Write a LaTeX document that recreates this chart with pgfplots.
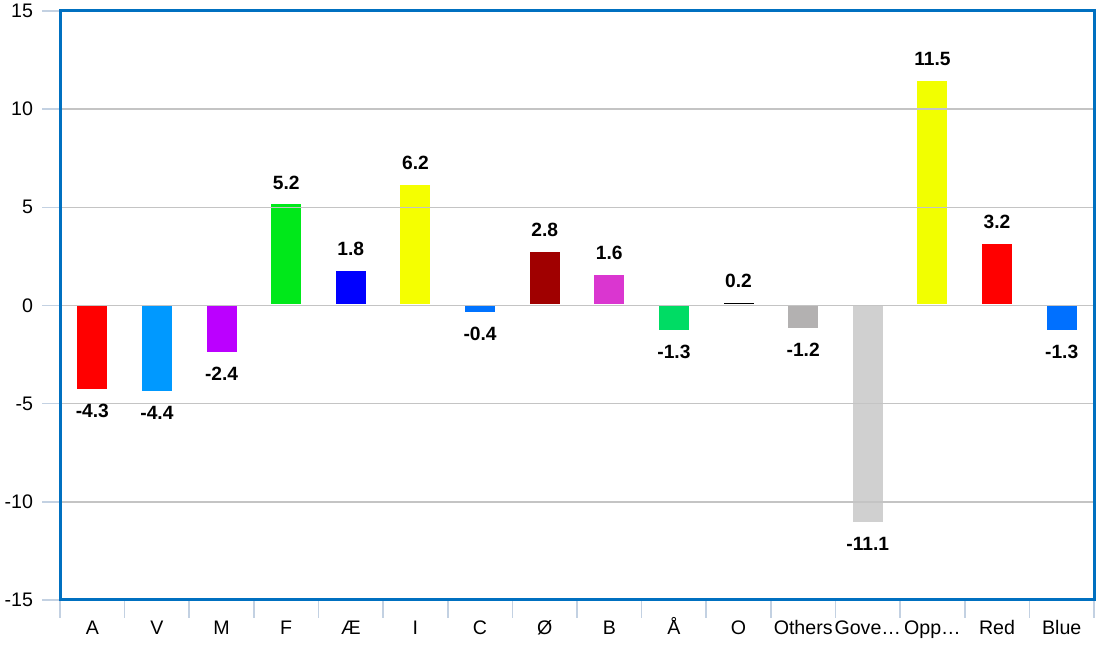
\documentclass[border=0pt]{standalone}
\usepackage{pgfplots}
\pgfplotsset{compat=1.18}
\usepackage{fontspec}
\setmainfont{Liberation Sans}
\definecolor{frameblue}{HTML}{0070C0}
\definecolor{tickblue}{HTML}{C3D1E2}
\definecolor{gridgray}{HTML}{C4C4C4}
\definecolor{cA}{HTML}{FF0000}
\definecolor{cV}{HTML}{0099FF}
\definecolor{cM}{HTML}{BB00FF}
\definecolor{cF}{HTML}{00E81A}
\definecolor{cAE}{HTML}{0000FF}
\definecolor{cI}{HTML}{F5FF00}
\definecolor{cC}{HTML}{0073FF}
\definecolor{cOE}{HTML}{A00000}
\definecolor{cB}{HTML}{DA36D0}
\definecolor{cAA}{HTML}{00DC64}
\definecolor{cO}{HTML}{000000}
\definecolor{cOth}{HTML}{B3B1B1}
\definecolor{cGov}{HTML}{D0D0D0}
\definecolor{cOpp}{HTML}{F2FF00}
\definecolor{cRed}{HTML}{FF0000}
\definecolor{cBlue}{HTML}{0070FF}
\pgfplotsset{neg/.style={every node near coord/.append style={anchor=north}}}
\begin{document}
\begin{tikzpicture}
\begin{axis}[
  name=ax,
  scale only axis,
  width=517pt, height=294.5pt,
  xmin=-0.5, xmax=15.5, ymin=-15, ymax=15,
  ybar, bar width=16pt, bar shift=0pt,
  axis line style={draw=frameblue, line width=1.5pt},
  ytick={-15,-10,-5,0,5,10,15},
  yticklabels={-15,-10,-5,0,5,10,15},
  xtick={0,...,15},
  xticklabels={A,V,M,F,Æ,I,C,Ø,B,Å,O,Others,Gove…,Opp…,Red,Blue},
  minor xtick={-0.5,0.5,...,15.5},
  ymajorgrids,
  major grid style={draw=gridgray, line width=0.7pt},
  tick align=outside,
  major tick length=9pt,
  minor tick length=9pt,
  x tick style={draw=none},
  minor x tick style={draw=tickblue, line width=0.8pt},
  y tick style={draw=tickblue, line width=0.8pt},
  xtick pos=bottom, ytick pos=left,
  tick label style={font=\fontsize{9.8}{11}\selectfont},
  xticklabel style={anchor=base, yshift=-8.5pt},
  yticklabel style={anchor=east, xshift=-1pt},
  axis on top,
  nodes near coords,
  point meta=explicit symbolic,
  nodes near coords style={font=\fontsize{9.6}{11}\selectfont\bfseries, inner sep=6.5pt},
  every axis plot/.append style={draw=white, line width=1pt},
  clip=false,
]
\addplot[fill=cA, neg] coordinates {(0,-4.3) [-4.3]};
\addplot[fill=cV, neg] coordinates {(1,-4.4) [-4.4]};
\addplot[fill=cM, neg] coordinates {(2,-2.4) [-2.4]};
\addplot[fill=cF] coordinates {(3,5.2) [5.2]};
\addplot[fill=cAE] coordinates {(4,1.8) [1.8]};
\addplot[fill=cI] coordinates {(5,6.2) [6.2]};
\addplot[fill=cC, neg] coordinates {(6,-0.4) [-0.4]};
\addplot[fill=cOE] coordinates {(7,2.8) [2.8]};
\addplot[fill=cB] coordinates {(8,1.6) [1.6]};
\addplot[fill=cAA, neg] coordinates {(9,-1.3) [-1.3]};
\addplot[fill=cO] coordinates {(10,0.2) [0.2]};
\addplot[fill=cOth, neg] coordinates {(11,-1.2) [-1.2]};
\addplot[fill=cGov, neg] coordinates {(12,-11.1) [-11.1]};
\addplot[fill=cOpp] coordinates {(13,11.5) [11.5]};
\addplot[fill=cRed] coordinates {(14,3.2) [3.2]};
\addplot[fill=cBlue, neg] coordinates {(15,-1.3) [-1.3]};
\end{axis}
\pgfresetboundingbox
\path ([shift={(-30pt,-23.5pt)}]ax.south west) rectangle ([shift={(4pt,5.5pt)}]ax.north east);
\end{tikzpicture}
\end{document}
